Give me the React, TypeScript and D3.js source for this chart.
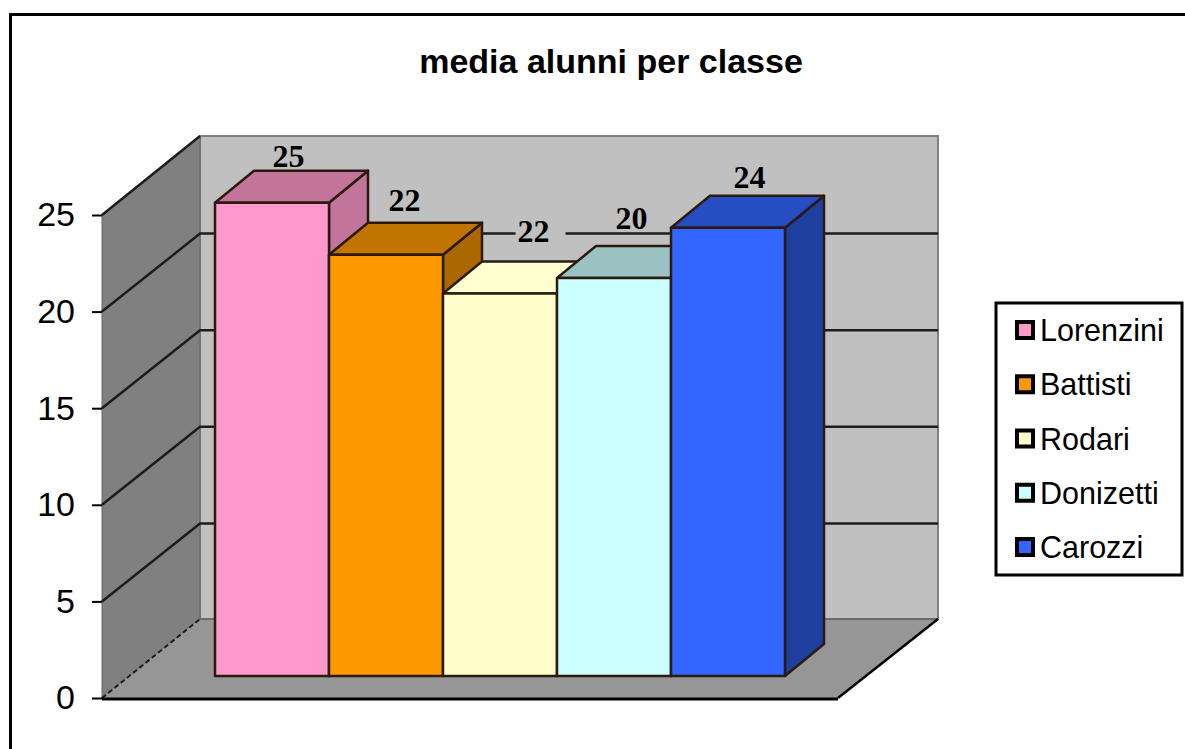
import { useEffect, useRef } from 'react'
import * as d3 from 'd3'

const schools = ['Lorenzini', 'Battisti', 'Rodari', 'Donizetti', 'Carozzi']
const barValues = [24.5, 21.8, 19.8, 20.6, 23.2]
const dataLabels = ['25', '22', '22', '20', '24']
const yTicks = [0, 5, 10, 15, 20, 25]

const frontColors = ['#ff99cc', '#ff9900', '#ffffcc', '#ccffff', '#3366ff']
const topColors = ['#c2749b', '#c27400', '#ffffd0', '#9bc2c2', '#264dc2']
const sideColors = ['#c2749b', '#ab6700', '#d8d8a8', '#9bc2c2', '#1f3f9e']

// labels in the picture don't sit centred on the bars, so nudge them by hand
const labelNudgeX = [-3, -1, 14, -2, 2]
const labelNudgeY = [-4, -12, -19, -17, -8]

const WIDTH = 1185
const HEIGHT = 749

const App = () => {
  const svgRef = useRef<SVGSVGElement>(null)

  useEffect(() => {
    if (!svgRef.current) return
    const svg = d3.select(svgRef.current)
    svg.selectAll('*').remove()

    const sans = "'Liberation Sans', Arial, sans-serif"
    const serif = "'Liberation Serif', 'Times New Roman', serif"

    // Chart box
    const x0 = 102
    const x1 = 838
    const y = d3.scaleLinear().domain([0, 25]).range([698, 215])
    const wallDx = 98
    const wallDy = -79
    const barDx = 39
    const barDy = -32
    const barLift = 22

    const x = d3.scaleBand().domain(schools).range([215, 785]).padding(0)
    const poly = (pts: number[][]) => `M${pts.map((p) => p.join(',')).join('L')}Z`
    const labelX = (i: number) => x(schools[i])! + x.bandwidth() / 2 + barDx / 2 + labelNudgeX[i]
    const labelY = (i: number) => y(barValues[i]) - barLift + barDy + labelNudgeY[i]

    // Outer frame (runs off the picture at the bottom and right)
    svg
      .append('path')
      .attr('d', `M10.5,${HEIGHT}V14.5H${WIDTH}`)
      .attr('fill', 'none')
      .attr('stroke', '#000')
      .attr('stroke-width', 3)

    // Title
    svg
      .append('text')
      .attr('x', 611)
      .attr('y', 73)
      .attr('text-anchor', 'middle')
      .style('font-family', sans)
      .style('font-size', '34px')
      .style('font-weight', '700')
      .text('media alunni per classe')

    // Back wall
    svg
      .append('path')
      .attr('d', poly([
        [x0 + wallDx, y(25) + wallDy],
        [x1 + wallDx + 2, y(25) + wallDy],
        [x1 + wallDx + 2, y(0) + wallDy],
        [x0 + wallDx, y(0) + wallDy],
      ]))
      .attr('fill', '#c0c0c0')
      .attr('stroke', '#808080')
      .attr('stroke-width', 2)

    // Left wall
    svg
      .append('path')
      .attr('d', poly([
        [x0, y(25)],
        [x0 + wallDx, y(25) + wallDy],
        [x0 + wallDx, y(0) + wallDy],
        [x0, y(0)],
      ]))
      .attr('fill', '#808080')
      .attr('stroke', '#666')
      .attr('stroke-width', 1)

    // Floor
    svg
      .append('path')
      .attr('d', poly([
        [x0, y(0)],
        [x1, y(0)],
        [x1 + wallDx + 2, y(0) + wallDy],
        [x0 + wallDx, y(0) + wallDy],
      ]))
      .attr('fill', '#969696')

    svg
      .append('line')
      .attr('x1', x0 + wallDx)
      .attr('x2', x1 + wallDx + 2)
      .attr('y1', y(0) + wallDy)
      .attr('y2', y(0) + wallDy)
      .attr('stroke', '#6a6a6a')
      .attr('stroke-width', 2)

    // Grid lines on both walls
    const grid = svg.append('g').attr('stroke', '#1c1c1c').attr('stroke-width', 2.5).attr('fill', 'none')
    yTicks.slice(1, -1).concat(25).forEach((t) => {
      const d =
        t === 25
          ? `M${x0},${y(t)}L${x0 + wallDx},${y(t) + wallDy}`
          : `M${x0},${y(t)}L${x0 + wallDx},${y(t) + wallDy + 1}H${x1 + wallDx + 2}`
      grid.append('path').attr('d', d)
    })
    grid.append('path')
      .attr('d', `M${x0},${y(0)}L${x0 + wallDx},${y(0) + wallDy}`)
      .attr('stroke-dasharray', '5 3')
      .attr('stroke-width', 2)
    grid.append('path')
      .attr('d', `M${x1},${y(0)}L${x1 + wallDx + 2},${y(0) + wallDy}`)
      .attr('stroke', '#000')

    // Floor front edge
    svg
      .append('line')
      .attr('x1', x0)
      .attr('x2', x1)
      .attr('y1', y(0) + 1)
      .attr('y2', y(0) + 1)
      .attr('stroke', '#000')
      .attr('stroke-width', 3)

    // Y axis
    svg
      .append('g')
      .attr('transform', `translate(${x0},0)`)
      .call(d3.axisLeft(y).tickValues(yTicks).tickSize(10).tickPadding(17))
      .call((g) => g.select('.domain').remove())
      .call((g) => g.selectAll('line').attr('stroke', '#000').attr('stroke-width', 2))
      .selectAll('text')
      .style('font-family', sans)
      .style('font-size', '34px')
      .style('fill', '#000')

    // The Rodari label has a wall coloured box that hides the grid line
    svg
      .append('rect')
      .attr('x', labelX(2) - 18)
      .attr('y', labelY(2) - 22)
      .attr('width', 50)
      .attr('height', 22)
      .attr('fill', '#c0c0c0')

    // Bars, left to right so each one covers the previous side face
    const bars = svg
      .append('g')
      .attr('stroke', '#2b1a10')
      .attr('stroke-width', 2.5)
      .attr('stroke-linejoin', 'round')

    schools.forEach((name, i) => {
      const left = x(name)!
      const right = left + x.bandwidth()
      const top = y(barValues[i]) - barLift
      const base = y(0) - barLift

      // Side
      bars
        .append('path')
        .attr('d', poly([
          [right, top],
          [right + barDx, top + barDy],
          [right + barDx, base + barDy],
          [right, base],
        ]))
        .attr('fill', sideColors[i])

      // Top
      bars
        .append('path')
        .attr('d', poly([
          [left, top],
          [left + barDx, top + barDy],
          [right + barDx, top + barDy],
          [right, top],
        ]))
        .attr('fill', topColors[i])

      // Front
      bars
        .append('rect')
        .attr('x', left)
        .attr('y', top)
        .attr('width', x.bandwidth())
        .attr('height', base - top)
        .attr('fill', frontColors[i])
    })

    // Data labels
    schools.forEach((_, i) => {
      svg
        .append('text')
        .attr('x', labelX(i))
        .attr('y', labelY(i))
        .attr('text-anchor', 'middle')
        .style('font-family', serif)
        .style('font-size', '32px')
        .style('font-weight', '700')
        .text(dataLabels[i])
    })

    // Legend
    svg
      .append('rect')
      .attr('x', 996)
      .attr('y', 303)
      .attr('width', 186)
      .attr('height', 272)
      .attr('fill', '#fff')
      .attr('stroke', '#000')
      .attr('stroke-width', 3)

    const legendY = d3.scalePoint().domain(schools).range([330, 547])
    schools.forEach((name, i) => {
      svg
        .append('rect')
        .attr('x', 1017)
        .attr('y', legendY(name)! - 8)
        .attr('width', 16)
        .attr('height', 16)
        .attr('fill', frontColors[i])
        .attr('stroke', '#000')
        .attr('stroke-width', 4)
      svg
        .append('text')
        .attr('x', 1040)
        .attr('y', legendY(name)! + 11)
        .style('font-family', sans)
        .style('font-size', '30.5px')
        .text(name)
    })
  }, [])

  return (
    <svg
      ref={svgRef}
      width={WIDTH}
      height={HEIGHT}
      style={{ position: 'absolute', left: 0, top: 0, background: '#fff' }}
    />
  )
}

export default App
